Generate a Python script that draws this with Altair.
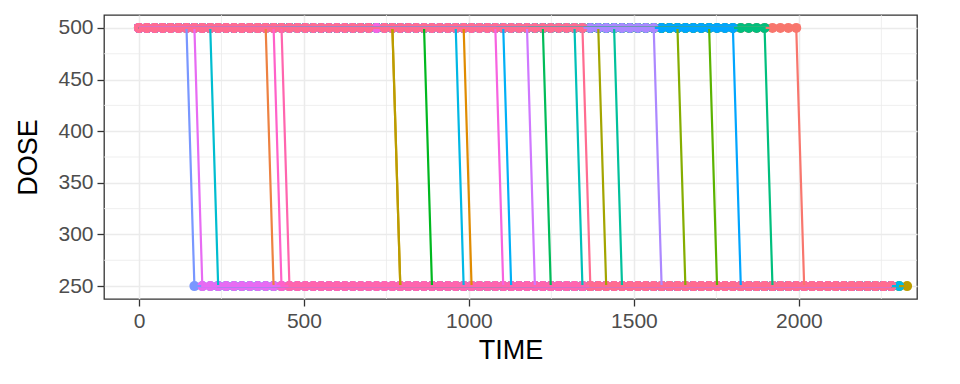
import math
import altair as alt
import pandas as pd

# ---- data ----
ids = [f"{i:02d}" for i in range(1, 26)]
# time of the last 500 mg record for each subject (then 250 mg)
last_high_time = [1992, 384, 984, 768, 768, 1392, 1632, 1728, 864, 1224,
                  1896, 1440, 1320, 216, 960, 1104, 1800, 144, 1560, 1176,
                  168, 1080, 408, 432, 1344]
end_time = [2280, 2280, 2280, 2280, 2328, 2280, 2280, 2280, 2280, 2280,
            2280, 2280, 2280, 2280, 2304, 2280, 2280, 2280, 2280, 2280,
            2280, 2280, 2280, 2280, 2280]
missing_times = {"25": [720]}
high_dose = 500
low_dose = 250
record_interval = 24

x_ticks = [0, 500, 1000, 1500, 2000]
x_minor = [250, 750, 1250, 1750, 2250]
y_ticks = [250, 300, 350, 400, 450, 500]
y_minor = [275, 325, 375, 425, 475]

rows = []
for sid, t_sw, t_end in zip(ids, last_high_time, end_time):
    t = 0
    while t <= t_end:
        if t not in missing_times.get(sid, []):
            rows.append({"ID": sid, "TIME": t,
                         "DOSE": high_dose if t <= t_sw else low_dose})
        t += record_interval
df = pd.DataFrame(rows)


# ggplot2-like hue palette (HCL, l=65, c=100)
def hcl_hex(h, c=100.0, l=65.0):
    un, vn = 0.1978398, 0.4683363
    Y = 100.0 * ((l + 16) / 116) ** 3
    U = c * math.cos(math.radians(h))
    V = c * math.sin(math.radians(h))
    u = U / (13 * l) + un
    v = V / (13 * l) + vn
    X = 9.0 * Y * u / (4 * v)
    Z = -X / 3 - 5 * Y + 3 * Y / v

    def gam(x):
        x = x / 100.0
        x = 1.055 * x ** (1 / 2.4) - 0.055 if x > 0.00304 else 12.92 * x
        return max(0, min(255, round(255 * x)))

    r = gam(3.240479 * X - 1.537150 * Y - 0.498535 * Z)
    g = gam(-0.969256 * X + 1.875992 * Y + 0.041556 * Z)
    b = gam(0.055648 * X - 0.204043 * Y + 1.057311 * Z)
    return "#%02X%02X%02X" % (r, g, b)


n = len(ids)
colors = [hcl_hex(15 + 360.0 / n * k) for k in range(n)]

xs = alt.Scale(domain=[-106, 2358], nice=False, zero=False)
ys = alt.Scale(domain=[237.5, 512.5], nice=False, zero=False)
X = alt.X("TIME:Q", scale=xs,
          axis=alt.Axis(values=x_ticks, title="TIME", format="d"))
Y = alt.Y("DOSE:Q", scale=ys,
          axis=alt.Axis(values=y_ticks, title="DOSE", format="d"))
C = alt.Color("ID:N", scale=alt.Scale(domain=ids, range=colors), legend=None)

minor_x = alt.Chart(pd.DataFrame({"TIME": x_minor})).mark_rule(
    color="#EBEBEB", strokeWidth=0.8).encode(x=X)
minor_y = alt.Chart(pd.DataFrame({"DOSE": y_minor})).mark_rule(
    color="#EBEBEB", strokeWidth=0.8).encode(y=Y)

points = alt.Chart(df).mark_circle(size=100, opacity=1).encode(x=X, y=Y, color=C)
lines = alt.Chart(df).mark_line(strokeWidth=2.2).encode(x=X, y=Y, color=C)

chart = alt.layer(minor_x, minor_y, points, lines).properties(
    width=813, height=284,
    autosize=alt.AutoSizeParams(type="none"),
    padding={"left": 96, "top": 7, "right": 35, "bottom": 77},
    background="white",
).configure_view(
    stroke="#333333", strokeWidth=1.3
).configure_axis(
    domain=False,
    grid=True, gridColor="#EBEBEB", gridWidth=1.5,
    ticks=True, tickColor="#333333", tickWidth=1.3, tickSize=7,
    labelFont="Liberation Sans", labelFontSize=21, labelColor="#4D4D4D",
    labelPadding=4,
    titleFont="Liberation Sans", titleFontSize=27, titleFontWeight="normal",
    titleColor="#000000",
).configure_axisX(
    titlePadding=6,
).configure_axisY(
    titlePadding=15,
)

chart.save("out.html", embed_options={"renderer": "svg", "actions": False})
